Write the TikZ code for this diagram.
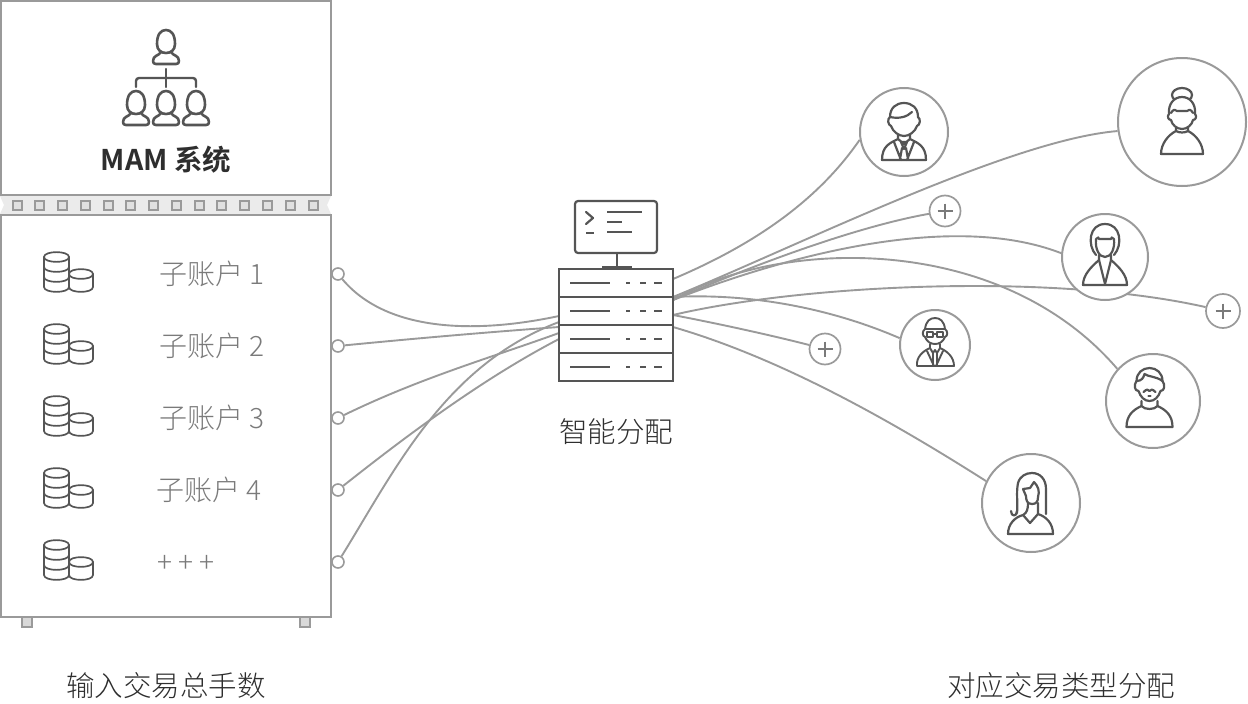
\documentclass[tikz,border=0pt]{standalone}
\usepackage{fontspec}
\usetikzlibrary{backgrounds}
\setmainfont{Noto Sans CJK SC}[UprightFont=* Light,BoldFont=* Bold]
\definecolor{ln}{HTML}{9A9A9A}
\definecolor{ic}{HTML}{555555}
\definecolor{tg}{HTML}{7A7A7A}
\definecolor{td}{HTML}{2E2E2E}
\tikzset{
 wire/.style={draw=ln,line width=1.9pt},
 ibox/.style={draw=ln,line width=2pt,fill=white,inner sep=0pt,minimum width=330pt},
 iconl/.style={draw=ic,line width=2.2pt,line join=round,line cap=round},
 port/.style={circle,draw=ln,line width=1.6pt,fill=white,minimum size=12pt,inner sep=0pt},
 pluscirc/.style={circle,draw=ln,line width=1.7pt,fill=white,inner sep=0pt},
 avatar/.style={circle,draw=ln,line width=2pt,fill=white,inner sep=0pt},
 srow/.style={draw=ic,line width=2pt,fill=white,minimum width=114pt,minimum height=28pt,inner sep=0pt},
 subl/.style={text=tg,font=\fontsize{28}{32}\selectfont,inner sep=0pt},
 capt/.style={text=td,font=\fontsize{28.5}{32}\selectfont,inner sep=0pt},
 sq/.style={draw=ln,line width=2pt,fill=black!12,minimum size=9pt,inner sep=0pt},
 foot/.style={draw=ln,line width=1.6pt,fill=black!15,minimum size=10pt,inner sep=0pt},
}
\newcommand{\lowcurve}[4]{(#1,#3) .. controls (#1,#3+#4) and (#2,#3+#4) .. (#2,#3)}
\newcommand{\coinstack}[1]{%
 \begin{scope}[shift={(0,#1)},iconl,line width=1.7pt]
  \draw (44,257) .. controls (44,250.5) and (69,250.5) .. (69,257) -- (69,287) .. controls (69,293.5) and (44,293.5) .. (44,287) -- cycle;
  \draw \lowcurve{44}{69}{257}{6.5};
  \draw \lowcurve{44}{69}{267}{6.5};
  \draw \lowcurve{44}{69}{277}{6.5};
  \draw[fill=white] (69,274) .. controls (69,267.5) and (93,267.5) .. (93,274) -- (93,287) .. controls (93,293.5) and (69,293.5) .. (69,287) -- cycle;
  \draw \lowcurve{69}{93}{274}{6.5};
 \end{scope}}
\newcommand{\orgperson}[2]{%
 \begin{scope}[shift={(#1,#2)},iconl,line width=2.6pt]
  \draw (-9,-9) .. controls (-9,-19) and (-5,-23) .. (0,-23) .. controls (5,-23) and (9,-19) .. (9,-9) .. controls (9,-3) and (5,0) .. (0,0) .. controls (-5,0) and (-9,-3) .. (-9,-9) -- cycle;
  \draw (-5,-1) .. controls (-7,3) and (-13,2) .. (-13,8) .. controls (-13,10) and (-12,11) .. (-10,11) -- (10,11) .. controls (12,11) and (13,10) .. (13,8) .. controls (13,2) and (7,3) .. (5,-1);
 \end{scope}}
\begin{document}
\begin{tikzpicture}[x=1pt,y=-1pt]
\useasboundingbox (0,0) rectangle (1248,704);
% belt and boxes
\fill[black!8] (0,196) -- (331,196) -- (327,205) -- (331,214) -- (0,214) -- (4,205) -- cycle;
\foreach \i in {0,...,13} \node[sq] (bs\i) at ({17+22.77*\i},205) {};
\node[ibox,minimum height=194pt] (topbox) at (166,98) {};
\node[ibox,minimum height=402pt] (acctbox) at (166,416) {};
\node[foot] (f1) at (27,622) {};
\node[foot] (f2) at (305,622) {};
\draw[ibox] (1,617) -- (331,617);
% org icon
\orgperson{166}{53}
\orgperson{136}{114}
\orgperson{166}{114}
\orgperson{196}{114}
\draw[iconl,rounded corners=3pt,line width=2.4pt] (136,87) -- (136,78) -- (196,78) -- (196,87);
\draw[iconl,line width=2.4pt] (166,69) -- (166,87);
\node[inner sep=0pt,text=td,font=\fontsize{28.5}{32}\selectfont\bfseries] (mam) at (166,160) {MAM 系统};
% coins and labels
\foreach \d in {0,72,144,216,288} \coinstack{\d};
\node[subl] (l1) at (212,274) {子账户 1};
\node[subl] (l2) at (212,346) {子账户 2};
\node[subl] (l3) at (212,418) {子账户 3};
\node[subl] (l4) at (209,490) {子账户 4};
\node[subl] (l5) at (186,564) {+ + +};
% anchors on the server
\coordinate (sl1) at (559,316);
\coordinate (sl2) at (559,327);
\coordinate (sl3) at (559,333);
\coordinate (sl4) at (559,339);
\coordinate (sl5) at (559,322);
\coordinate (sra) at (673,279);
\coordinate (srb) at (673,297);
\coordinate (src) at (673,300);
\coordinate (srd) at (673,315);
\coordinate (sre) at (673,327);
% ports, avatars, plus signs
\node[port] (p1) at (338,274) {};
\node[port] (p2) at (338,346) {};
\node[port] (p3) at (338,418) {};
\node[port] (p4) at (338,490) {};
\node[port] (p5) at (338,562) {};
\node[avatar,minimum size=88pt] (a1) at (904,132) {};
\node[avatar,minimum size=128pt] (a2) at (1182,122) {};
\node[avatar,minimum size=86pt] (a3) at (1105,257) {};
\node[avatar,minimum size=70pt] (a4) at (935,345) {};
\node[avatar,minimum size=94pt] (a5) at (1153,401) {};
\node[avatar,minimum size=98pt] (a6) at (1031,503) {};
\node[pluscirc,minimum size=31pt] (q1) at (945,211) {};
\node[pluscirc,minimum size=34pt] (q2) at (1223,311) {};
\node[pluscirc,minimum size=31pt] (q3) at (825,349) {};
% connectors
\begin{scope}[on background layer]
\draw[wire] (p1) .. controls (385,330) and (470,335) .. (sl1);
\draw[wire] (p2) .. controls (420,338) and (490,332) .. (sl2);
\draw[wire] (p3) .. controls (420,378) and (490,358) .. (sl3);
\draw[wire] (p4) .. controls (420,425) and (490,375) .. (sl4);
\draw[wire] (p5) .. controls (395,470) and (445,365) .. (sl5);
\draw[wire] (sra) .. controls (770,238) and (825,190) .. (a1.190);
\draw[wire] (srb) .. controls (800,245) and (1010,140) .. (a2.188);
\draw[wire] (src) .. controls (760,262) and (860,226) .. (q1);
\draw[wire] (src) .. controls (780,258) and (950,210) .. (a3.175);
\draw[wire] (src) .. controls (780,238) and (1000,232) .. (a5.138);
\draw[wire] (srd) .. controls (800,285) and (1050,272) .. (q2);
\draw[wire] (srb) .. controls (750,293) and (830,308) .. (a4.169);
\draw[wire] (srd) .. controls (720,324) and (770,335) .. (q3);
\draw[wire] (sre) .. controls (780,358) and (890,420) .. (a6.154);
\end{scope}
\foreach \n/\r in {q1/7.5,q2/7.5,q3/7.5}
  \draw[draw=tg,line width=1.5pt] (\n.center) ++(-\r,0) -- ++(2*\r,0) ++(-\r,-\r) -- ++(0,2*\r);
% server
\draw[iconl,fill=white,rounded corners=3pt] (575,201) rectangle (657,253);
\draw[iconl] (586,212) -- (593,218) -- (586,224);
\draw[iconl,line cap=butt] (586,233) -- (594,233) (607,212) -- (642,212) (607,222) -- (622,222) (607,232) -- (632,232);
\draw[iconl,line cap=butt] (617,253) -- (617,268);
\draw[ic,line width=3pt] (602,267) -- (632,267);
\node[srow] (r1) at (616,283) {};
\node[srow] (r2) at (616,311) {};
\node[srow] (r3) at (616,339) {};
\node[srow] (r4) at (616,367) {};
\foreach \y in {283,311,339,367} {
  \draw[iconl,line cap=butt] (570,\y) -- (610,\y) (626,\y) -- (630,\y) (640,\y) -- (646,\y) (654,\y) -- (662,\y);
}
% avatars' figures
\begin{scope}[shift={(904,132)},iconl]
 \draw (-14,-15) .. controls (-14,-24) and (-8,-29) .. (0,-29) .. controls (8,-29) and (14,-24) .. (14,-15) .. controls (17,-13) and (16,-7) .. (13,-6) .. controls (11,0) and (5,4) .. (0,4) .. controls (-5,4) and (-11,0) .. (-13,-6) .. controls (-16,-7) and (-17,-13) .. (-14,-15);
 \draw (-14,-15) .. controls (-5,-13) and (3,-15) .. (8,-20);
 \draw (-6,3) -- (-6,7) .. controls (-14,11) and (-22,14) .. (-22,28) -- (22,28) .. controls (22,14) and (14,11) .. (6,7) -- (6,3);
 \draw (-6,7) -- (0,12) -- (6,7) (-3,10) -- (0,17) -- (3,10) -- (-3,10) (-2,16) -- (-4,27) (2,16) -- (4,27) (-10,10) -- (-3,28) (10,10) -- (3,28);
\end{scope}
\begin{scope}[shift={(1182,122)},iconl]
 \draw (0,-27) ellipse[x radius=10,y radius=7];
 \draw[fill=white] (-13,-8) .. controls (-14,-18) and (-8,-25) .. (0,-25) .. controls (8,-25) and (14,-18) .. (13,-8) .. controls (15,-6) and (14,-2) .. (11,-2) .. controls (10,3) and (5,7) .. (0,7) .. controls (-5,7) and (-10,3) .. (-11,-2) .. controls (-14,-2) and (-15,-6) .. (-13,-8);
 \draw (-11,-9) .. controls (-9,-13) and (-6,-13) .. (-5,-11) -- (5,-11) .. controls (6,-13) and (9,-13) .. (11,-9);
 \draw (-6,6) -- (-6,9) .. controls (-14,13) and (-21,22) .. (-21,32) -- (21,32) .. controls (21,22) and (14,13) .. (6,9) -- (6,6);
 \draw (-6,9) .. controls (-3,11) and (3,11) .. (6,9);
\end{scope}
\begin{scope}[shift={(1105,257)},iconl]
 \draw (-9,-2) .. controls (-18,-12) and (-16,-33) .. (0,-33) .. controls (16,-33) and (18,-12) .. (9,-2);
 \draw (-9,-18) .. controls (-7,-20) and (-6,-20) .. (-6,-18) -- (6,-18) .. controls (6,-20) and (7,-20) .. (9,-18) .. controls (10,-8) and (6,0) .. (0,0) .. controls (-6,0) and (-10,-8) .. (-9,-18);
 \draw (-6,-2) -- (-6,3) .. controls (-14,10) and (-22,18) .. (-22,28) -- (22,28) .. controls (22,18) and (14,10) .. (6,3) -- (6,-2);
 \draw (-6,3) -- (0,27) -- (6,3);
\end{scope}
\begin{scope}[shift={(935,345)},iconl,line width=1.9pt]
 \draw (-10,-16) .. controls (-9,-24) and (-5,-27) .. (0,-27) .. controls (5,-27) and (9,-24) .. (10,-16) .. controls (13,-14) and (13,-9) .. (10,-8) .. controls (8,-3) and (4,-1) .. (0,-1) .. controls (-4,-1) and (-8,-3) .. (-10,-8) .. controls (-13,-9) and (-13,-14) .. (-10,-16);
 \draw (-10,-16) -- (10,-16);
 \draw (-8,-13) rectangle (-2,-8) (2,-13) rectangle (8,-8) (-2,-11) -- (2,-11);
 \draw (-5,-1) -- (-5,3) .. controls (-12,6) and (-19,12) .. (-18,21) -- (19,21) .. controls (19,12) and (12,6) .. (5,3) -- (5,-1);
 \draw (-5,3) -- (-2,8) -- (0,5) -- (2,8) -- (5,3) (-2,8) -- (-2,21) (2,8) -- (2,21) (-8,6) -- (-1,21) (8,6) -- (1,21);
\end{scope}
\begin{scope}[shift={(1149.5,401)},iconl]
 \draw (-13,-20) .. controls (-13,-28) and (-7,-33) .. (0,-33) .. controls (7,-33) and (13,-28) .. (13,-20) .. controls (16,-16) and (15,-10) .. (11,-10) .. controls (9,-4) and (5,0) .. (0,0) .. controls (-5,0) and (-9,-4) .. (-11,-10) .. controls (-15,-10) and (-16,-16) .. (-13,-20);
 \draw (-13,-20) .. controls (-8,-20) and (-6,-23) .. (-5,-27) .. controls (-1,-24) and (6,-25) .. (13,-20);
 \draw (-6,-9) .. controls (-3,-12) and (-1,-12) .. (0,-10) .. controls (1,-12) and (3,-12) .. (6,-9);
 \draw (-1,-5) -- (1,-5);
 \draw (-8,0) -- (-8,5) .. controls (-5,9) and (5,9) .. (8,5) -- (8,0);
 \draw (-8,5) .. controls (-17,9) and (-23,15) .. (-23,26) -- (23,26) .. controls (23,15) and (17,9) .. (8,5);
\end{scope}
\begin{scope}[shift={(1031,503)},iconl]
 \draw (-14,10) .. controls (-13,0) and (-15,-10) .. (-13,-20) .. controls (-11,-27) and (-5,-30) .. (1,-30) .. controls (9,-30) and (15,-24) .. (15,-14) -- (15,11);
 \draw (-8,-14) -- (-1,-15) -- (3,-21) .. controls (7,-17) and (9,-12) .. (7,-6) .. controls (7,-1) and (5,1) .. (1,1) .. controls (-4,1) and (-5,-3) .. (-5,-7) -- (-8,-14);
 \draw (-3,0) .. controls (-3,6) and (-4,10) .. (-8,12) .. controls (-16,14) and (-23,21) .. (-23,31) -- (22,31) .. controls (22,21) and (16,14) .. (7,11) -- (7,0);
 \draw (-8,12) -- (-1,20) -- (7,11);
 \draw (-14,8) .. controls (-14,14) and (-20,14) .. (-20,8);
\end{scope}
\node[capt] (c1) at (616,432) {智能分配};
\node[capt] (c2) at (166,686) {输入交易总手数};
\node[capt] (c3) at (1061,686) {对应交易类型分配};
\end{tikzpicture}
\end{document}
